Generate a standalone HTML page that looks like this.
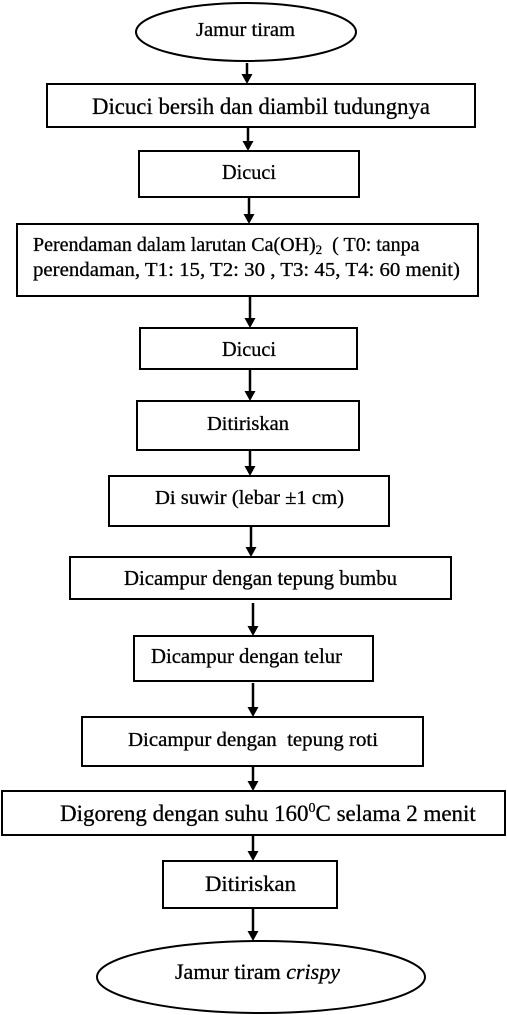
<!DOCTYPE html>
<html><head><meta charset="utf-8"><style>
html,body{margin:0;padding:0;background:#fff;}
svg{display:block;}
text{font-family:"Liberation Serif",serif;fill:#000;stroke:#000;stroke-width:0.3;}
</style></head><body>
<svg width="507" height="1015" viewBox="0 0 507 1015" xmlns="http://www.w3.org/2000/svg">
<g fill="none" stroke="#000" stroke-width="2">
<ellipse cx="246" cy="32" rx="110" ry="29"/>
<rect x="47" y="84" width="428" height="43"/>
<rect x="139" y="151" width="220" height="46"/>
<rect x="17" y="224" width="461" height="72"/>
<rect x="140" y="328" width="217" height="41"/>
<rect x="137" y="401" width="222" height="49"/>
<rect x="109" y="476" width="280" height="50"/>
<rect x="70" y="557" width="381" height="42"/>
<rect x="134" y="636" width="239" height="45"/>
<rect x="82" y="717" width="341" height="49"/>
<rect x="2" y="791" width="503" height="44"/>
<rect x="163" y="861" width="174" height="47"/>
<ellipse cx="261" cy="977" rx="164" ry="36"/>
</g>
<g stroke="#000" stroke-width="2.5">
<line x1="247" y1="63" x2="247" y2="76"/>
<line x1="248" y1="128" x2="248" y2="143"/>
<line x1="249" y1="198" x2="249" y2="216"/>
<line x1="250" y1="297" x2="250" y2="320"/>
<line x1="250" y1="370" x2="250" y2="393"/>
<line x1="250" y1="451" x2="250" y2="468"/>
<line x1="251" y1="527" x2="251" y2="549"/>
<line x1="253" y1="603" x2="253" y2="628"/>
<line x1="253" y1="683" x2="253" y2="709"/>
<line x1="253" y1="767" x2="253" y2="783"/>
<line x1="253" y1="836" x2="253" y2="853"/>
<line x1="253" y1="909" x2="253" y2="933"/>
</g>
<g fill="#000">
<path d="M241.5,74 L252.5,74 L247,84 Z"/>
<path d="M242.5,141 L253.5,141 L248,151 Z"/>
<path d="M243.5,214 L254.5,214 L249,224 Z"/>
<path d="M244.5,318 L255.5,318 L250,328 Z"/>
<path d="M244.5,391 L255.5,391 L250,401 Z"/>
<path d="M244.5,466 L255.5,466 L250,476 Z"/>
<path d="M245.5,547 L256.5,547 L251,557 Z"/>
<path d="M247.5,626 L258.5,626 L253,636 Z"/>
<path d="M247.5,707 L258.5,707 L253,717 Z"/>
<path d="M247.5,781 L258.5,781 L253,791 Z"/>
<path d="M247.5,851 L258.5,851 L253,861 Z"/>
<path d="M247.5,931 L258.5,931 L253,941 Z"/>
</g>
<text x="196" y="36" font-size="20" textLength="99" lengthAdjust="spacingAndGlyphs">Jamur tiram</text>
<text x="92" y="114" font-size="23" textLength="338" lengthAdjust="spacingAndGlyphs">Dicuci bersih dan diambil tudungnya</text>
<text x="222" y="179" font-size="21" textLength="54" lengthAdjust="spacingAndGlyphs">Dicuci</text>
<text x="33" y="251" font-size="20">Perendaman dalam larutan Ca(OH)<tspan font-size="13" dy="3">2</tspan><tspan dy="-3" xml:space="preserve">  ( T0: tanpa</tspan></text>
<text x="33" y="276" font-size="20" textLength="427" lengthAdjust="spacingAndGlyphs">perendaman, T1: 15, T2: 30 , T3: 45, T4: 60 menit)</text>
<text x="222" y="356" font-size="21" textLength="54" lengthAdjust="spacingAndGlyphs">Dicuci</text>
<text x="207" y="430" font-size="20.5" textLength="82" lengthAdjust="spacingAndGlyphs">Ditiriskan</text>
<text x="155" y="504" font-size="20.5" textLength="189" lengthAdjust="spacingAndGlyphs">Di suwir (lebar ±1 cm)</text>
<text x="124" y="585" font-size="21" textLength="273" lengthAdjust="spacingAndGlyphs">Dicampur dengan tepung bumbu</text>
<text x="151" y="663" font-size="21" textLength="191" lengthAdjust="spacingAndGlyphs">Dicampur dengan telur</text>
<text x="128" y="746" font-size="20" textLength="250" lengthAdjust="spacingAndGlyphs" xml:space="preserve">Dicampur dengan  tepung roti</text>
<text x="60" y="821" font-size="23">Digoreng dengan suhu 160<tspan font-size="14" dy="-9">0</tspan><tspan dy="9">C selama 2 menit</tspan></text>
<text x="205" y="891" font-size="22.5" textLength="91" lengthAdjust="spacingAndGlyphs">Ditiriskan</text>
<text x="175" y="979" font-size="22">Jamur tiram <tspan font-style="italic">crispy</tspan></text>
</svg>
</body></html>
